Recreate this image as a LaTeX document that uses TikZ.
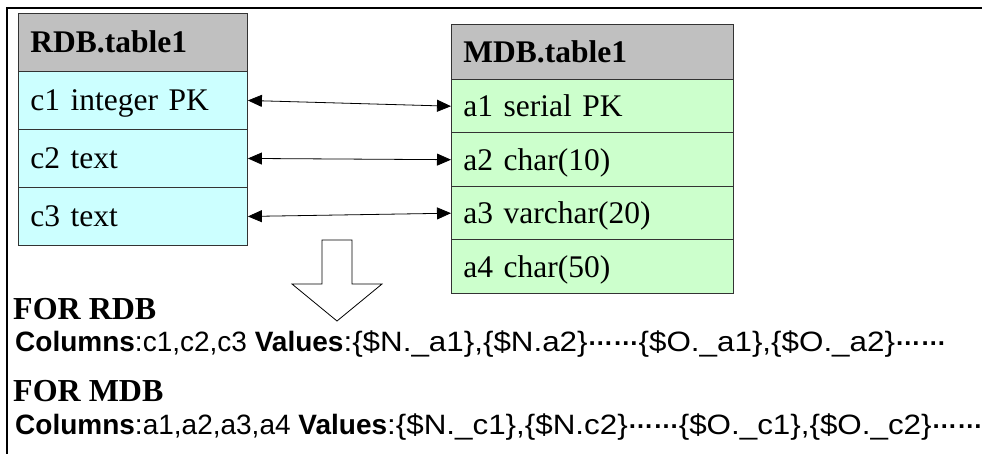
\documentclass[tikz,border=0pt]{standalone}
\usepackage{fontspec}
\setmainfont{Liberation Serif}
\setsansfont{Liberation Sans}
\usetikzlibrary{arrows.meta}
\definecolor{hdrgray}{HTML}{C0C0C0}
\definecolor{rdbcyan}{HTML}{CCFFFF}
\definecolor{mdbgreen}{HTML}{CCFFCC}
\newcommand\sixdots{\raisebox{6pt}{\fontsize{25.5}{25}\selectfont\bfseries ……}}
\newcommand\widetxt[1]{\scalebox{1.12}[1]{#1}}
\tikzset{
  cell/.style={draw=black!80, line width=0.9pt, anchor=north west, inner xsep=12pt, inner ysep=0pt,
    text height=21pt, text depth=0pt, align=left, font=\fontsize{31.5}{36}\selectfont},
  hdr/.style={cell, fill=hdrgray, font=\fontsize{31.5}{36}\selectfont\bfseries},
  rrow/.style={cell, fill=rdbcyan},
  mrow/.style={cell, fill=mdbgreen},
  link/.style={{Triangle[length=14pt,width=12pt]}-{Triangle[length=14pt,width=12pt]}, line width=0.8pt},
  title/.style={anchor=base west, inner sep=0pt, font=\fontsize{32}{36}\selectfont\bfseries},
  sqltext/.style={anchor=base west, inner sep=0pt, font=\sffamily\fontsize{28}{34}\selectfont}
}
\begin{document}
\begin{tikzpicture}[x=1pt,y=-1pt]
\useasboundingbox (0,0) rectangle (982,454);
% frame
\draw[line width=1.4pt] (982,8) -- (7,8) -- (7,454);
% RDB table
\node[hdr, text width=205pt, minimum height=58pt] (rh) at (18,13) {RDB.table1};
\node[rrow, text width=205pt, minimum height=58pt] (r1) at (18,71) {c1 integer PK};
\node[rrow, text width=205pt, minimum height=58pt] (r2) at (18,129) {c2 text};
\node[rrow, text width=205pt, minimum height=58pt] (r3) at (18,187) {c3 text};
% MDB table
\node[hdr, text width=258pt, minimum height=55pt] (mh) at (451,24) {MDB.table1};
\node[mrow, text width=258pt, minimum height=53.5pt] (m1) at (451,79) {a1 serial PK};
\node[mrow, text width=258pt, minimum height=53.5pt] (m2) at (451,132.5) {a2 char(10)};
\node[mrow, text width=258pt, minimum height=53.5pt] (m3) at (451,186) {a3 varchar(20)};
\node[mrow, text width=258pt, minimum height=53.5pt] (m4) at (451,239.5) {a4 char(50)};
% links
\draw[link] (r1.east) -- (m1.west);
\draw[link] (r2.east) -- (m2.west);
\draw[link] (r3.east) -- (m3.west);
% block arrow
\draw[line width=0.8pt, fill=white] (322,240) -- (352,240) -- (352,284) -- (382,284) -- (337,321)
  -- (292,284) -- (322,284) -- cycle;
% texts
\node[title] (t1) at (13,319) {FOR RDB};
\node[sqltext] (s1) at (15,351) {\textbf{Columns}:c1,c2,c3 \textbf{Values}\widetxt{:\{\$N.\_a1\},\{\$N.a2\}}\sixdots\widetxt{\{\$O.\_a1\},\{\$O.\_a2\}}\sixdots};
\node[title] (t2) at (13,401) {FOR MDB};
\node[sqltext] (s2) at (15,434) {\textbf{Columns}:a1,a2,a3,a4 \textbf{Values}\widetxt{:\{\$N.\_c1\},\{\$N.c2\}}\sixdots\widetxt{\{\$O.\_c1\},\{\$O.\_c2\}}\sixdots};
\end{tikzpicture}
\end{document}
